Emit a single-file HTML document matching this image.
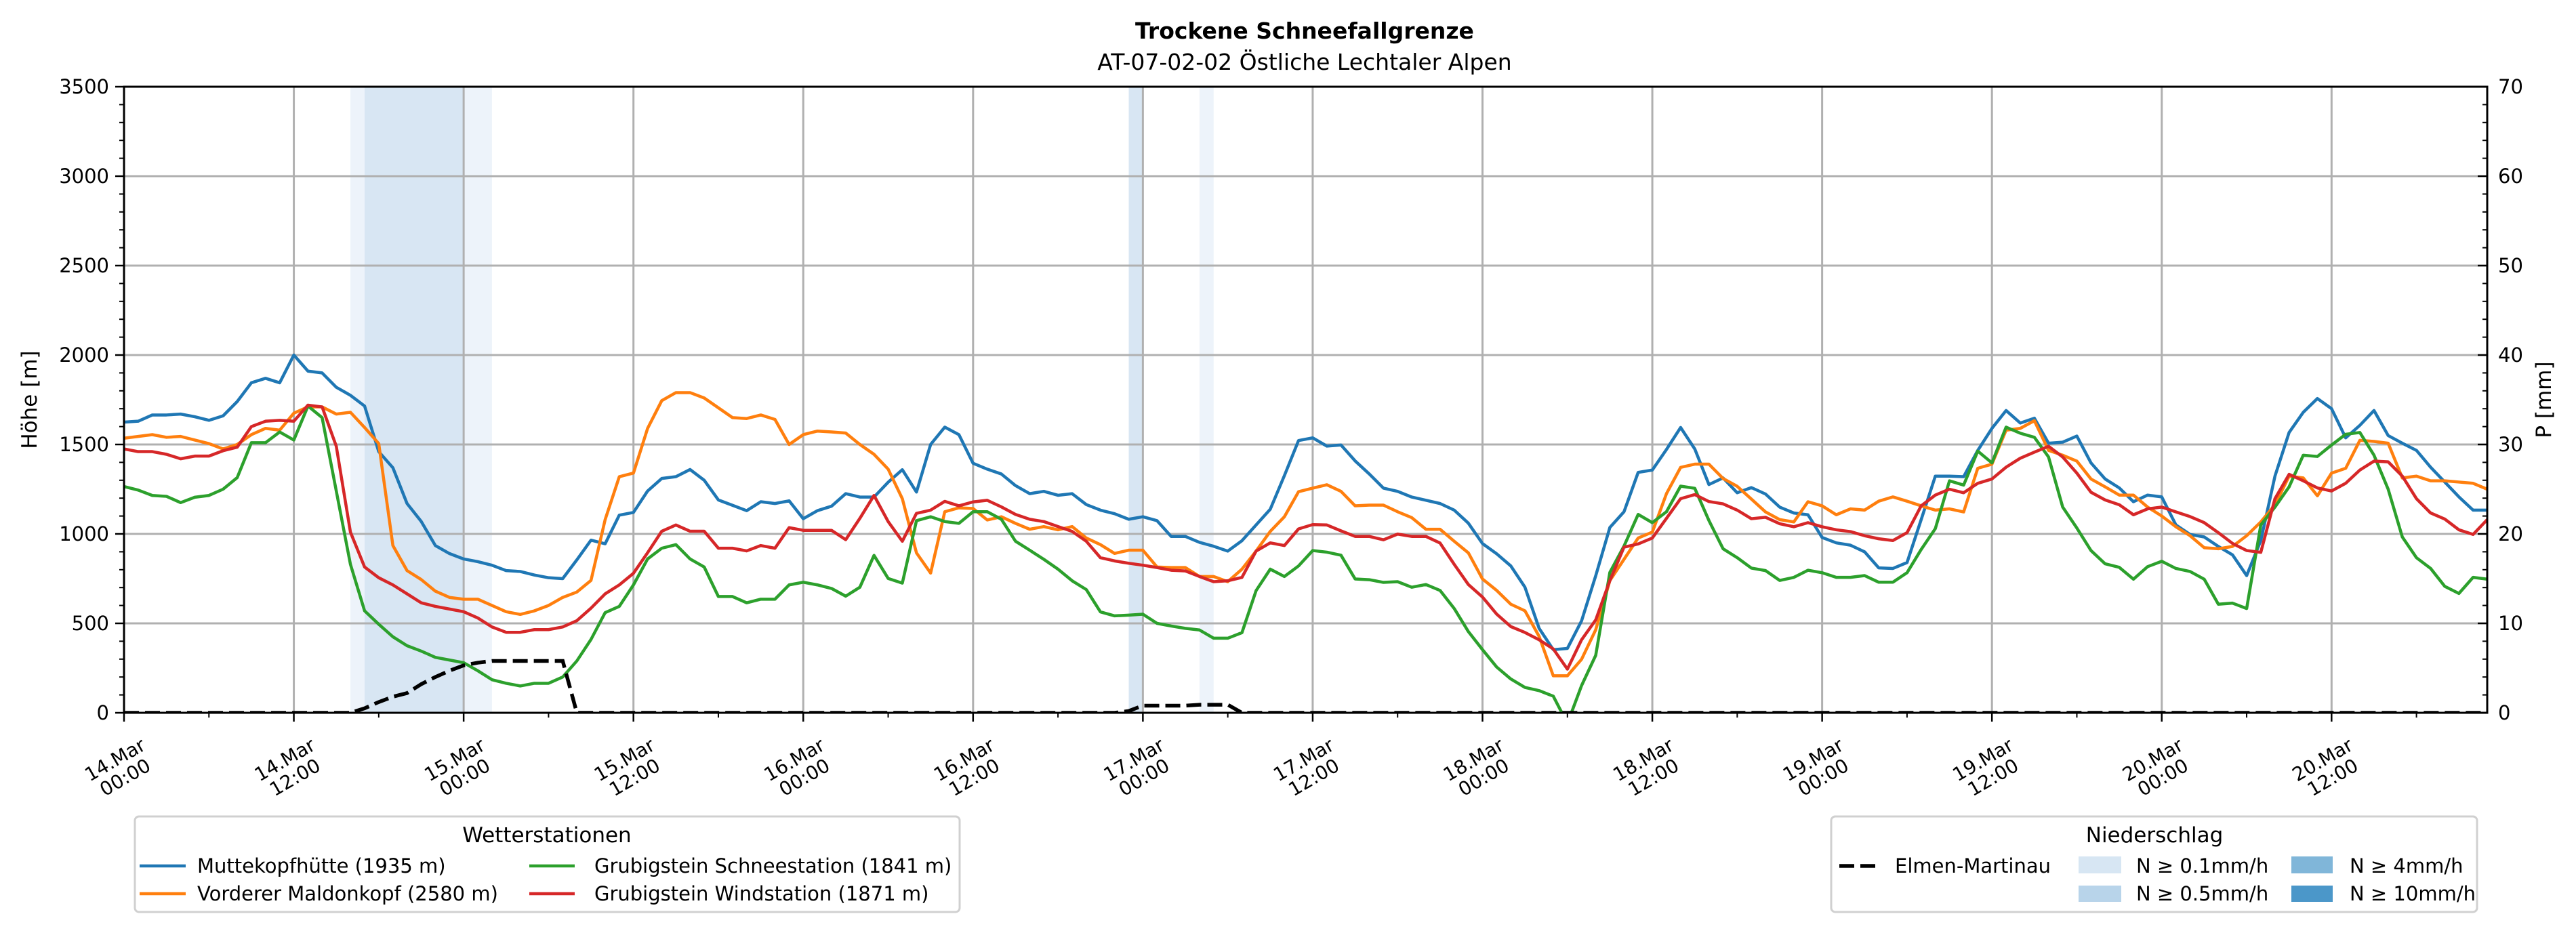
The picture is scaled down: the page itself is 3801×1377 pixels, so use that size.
<!DOCTYPE html>
<html><head><meta charset="utf-8"><style>
html,body{margin:0;padding:0;background:#fff;}
svg{display:block;font-family:"DejaVu Sans","Liberation Sans",sans-serif;}
</style></head><body>
<svg id="chart" width="3801" height="1377" viewBox="0 0 3801 1377" xmlns="http://www.w3.org/2000/svg">
<rect width="3801" height="1377" fill="#fff"/>
<text x="1925" y="57" text-anchor="middle" font-size="33" font-weight="bold">Trockene Schneefallgrenze</text>
<text x="1925" y="103" text-anchor="middle" font-size="33">AT-07-02-02 Östliche Lechtaler Alpen</text>
<g id="bands"></g>
<g id="grid"></g>
<g id="series"></g>
<g id="axes"></g>
<text x="0" y="0" transform="translate(54,590) rotate(-90)" text-anchor="middle" font-size="31">Höhe [m]</text>
<text x="0" y="0" transform="translate(3764,590) rotate(-90)" text-anchor="middle" font-size="31">P [mm]</text>

<g>
<rect x="199" y="1205" width="1217" height="141" rx="6" fill="#fff" stroke="#d0d0d0" stroke-width="3"/>
<text x="807" y="1243" text-anchor="middle" font-size="31">Wetterstationen</text>
<g><line x1="206" y1="1278" x2="274" y2="1278" stroke="#1f77b4" stroke-width="4.5"/><text x="291" y="1288" font-size="29">Muttekopfhütte (1935 m)</text></g>
<g><line x1="206" y1="1319" x2="274" y2="1319" stroke="#ff7f0e" stroke-width="4.5"/><text x="291" y="1329" font-size="29">Vorderer Maldonkopf (2580 m)</text></g>
<g><line x1="781" y1="1278" x2="848" y2="1278" stroke="#2ca02c" stroke-width="4.5"/><text x="877" y="1288" font-size="29">Grubigstein Schneestation (1841 m)</text></g>
<g><line x1="781" y1="1319" x2="848" y2="1319" stroke="#d62728" stroke-width="4.5"/><text x="877" y="1329" font-size="29">Grubigstein Windstation (1871 m)</text></g>
</g>

<g>
<rect x="2702" y="1205" width="953" height="141" rx="6" fill="#fff" stroke="#d0d0d0" stroke-width="3"/>
<text x="3179" y="1243" text-anchor="middle" font-size="31">Niederschlag</text>
<g><line x1="2714" y1="1278" x2="2770" y2="1278" stroke="#000" stroke-width="5.5" stroke-dasharray="22,9"/><text x="2796" y="1288" font-size="29">Elmen-Martinau</text></g>
<g><rect x="3067" y="1264" width="63" height="25" fill="#d7e6f3"/><text x="3152" y="1288" font-size="29">N ≥ 0.1mm/h</text></g>
<g><rect x="3067" y="1307" width="63" height="24" fill="#b8d4ea"/><text x="3152" y="1329" font-size="29">N ≥ 0.5mm/h</text></g>
<g><rect x="3381" y="1264" width="61" height="25" fill="#80b6d9"/><text x="3467" y="1288" font-size="29">N ≥ 4mm/h</text></g>
<g><rect x="3381" y="1307" width="61" height="24" fill="#4b97c9"/><text x="3467" y="1329" font-size="29">N ≥ 10mm/h</text></g>
</g>
</svg>
<script>
const muttekopf = [1625,1630,1665,1665,1670,1655,1635,1660,1740,1845,1870,1845,2000,1910,1900,1820,1775,1715,1460,1370,1170,1070,935,890,860,845,825,795,790,770,755,750,855,965,945,1105,1120,1240,1310,1320,1360,1300,1190,1160,1130,1180,1170,1185,1085,1130,1155,1225,1206,1206,1289,1359,1234,1500,1597,1555,1395,1362,1335,1270,1225,1238,1216,1225,1164,1133,1113,1082,1096,1074,986,986,953,931,904,962,1050,1138,1326,1522,1537,1491,1497,1408,1335,1256,1238,1206,1188,1170,1133,1060,946,889,821,702,472,353,360,514,766,1036,1124,1344,1357,1472,1595,1475,1276,1313,1230,1259,1223,1150,1117,1107,980,950,937,900,810,807,840,1080,1323,1323,1320,1467,1590,1690,1620,1647,1507,1513,1547,1397,1307,1257,1180,1217,1207,1050,997,983,930,883,767,963,1323,1567,1680,1757,1700,1537,1607,1690,1550,1507,1467,1373,1290,1207,1133,1133];
const maldonkopf = [1535,1545,1555,1540,1545,1525,1505,1475,1500,1555,1590,1580,1675,1710,1710,1670,1680,1595,1505,935,795,745,680,645,635,635,600,565,550,570,600,645,675,740,1080,1320,1340,1590,1745,1790,1790,1760,1705,1650,1645,1665,1640,1500,1555,1575,1570,1564,1500,1445,1362,1197,894,781,1124,1146,1142,1078,1096,1059,1026,1041,1023,1041,977,940,891,909,909,815,812,812,762,762,733,803,904,1014,1096,1236,1256,1275,1238,1157,1161,1161,1124,1091,1026,1026,959,894,748,684,607,570,427,207,207,299,464,739,858,977,1010,1225,1372,1390,1390,1310,1266,1195,1123,1080,1067,1180,1157,1107,1140,1133,1183,1207,1183,1157,1133,1140,1123,1367,1390,1580,1590,1633,1467,1440,1407,1307,1263,1217,1217,1150,1100,1040,990,923,917,930,990,1067,1163,1323,1313,1213,1340,1367,1523,1517,1507,1313,1323,1297,1297,1290,1283,1250];
const schneestation = [1265,1245,1215,1210,1175,1205,1215,1250,1315,1510,1510,1570,1525,1715,1650,1240,830,570,495,425,375,345,310,295,280,235,185,165,150,165,165,200,290,410,560,595,715,860,920,940,860,815,650,650,615,635,635,715,730,715,695,652,702,880,751,725,1074,1096,1069,1059,1124,1124,1082,959,909,858,803,738,689,564,542,546,551,500,485,472,463,417,417,448,683,803,762,821,907,898,881,748,744,729,733,702,717,684,583,454,353,256,189,142,124,93,-60,152,321,785,932,1109,1063,1124,1267,1255,1075,917,867,809,795,740,757,797,783,757,757,767,730,730,783,913,1030,1297,1273,1463,1397,1597,1563,1540,1430,1150,1033,907,833,813,747,817,847,807,790,747,607,613,583,1050,1150,1263,1440,1433,1497,1557,1567,1440,1250,983,867,807,707,667,757,747];
const windstation = [1475,1460,1460,1445,1420,1435,1435,1465,1485,1600,1630,1635,1630,1720,1710,1490,1010,815,755,715,665,615,595,580,565,530,480,450,450,465,465,480,515,585,665,715,780,895,1015,1050,1015,1015,920,920,905,935,920,1035,1020,1020,1020,968,1087,1215,1069,959,1115,1133,1182,1157,1179,1188,1151,1109,1082,1069,1041,1014,959,867,849,836,825,812,797,793,762,733,738,757,904,950,935,1028,1052,1050,1017,986,986,967,999,986,986,949,830,717,647,552,482,449,408,357,244,408,519,739,926,944,977,1087,1197,1220,1181,1168,1133,1085,1093,1057,1040,1063,1040,1023,1013,990,973,963,1007,1157,1217,1250,1230,1283,1307,1373,1423,1457,1490,1430,1340,1233,1190,1163,1107,1140,1150,1123,1097,1063,1007,947,907,897,1197,1333,1297,1257,1240,1283,1357,1407,1403,1323,1197,1117,1083,1023,997,1080];
const precipHours = [17,18,19,20,21,22,23,24,25,26,27,28,29,30,31,71,72,73,74,75,76,77,78];
const precipValues = [0.5,1.2,1.8,2.2,3.2,4.0,4.7,5.3,5.6,5.8,5.8,5.8,5.8,5.8,5.8,0.2,0.8,0.8,0.8,0.8,0.9,0.9,0.9];
const bandStart = [16,17,24,71,76];
const bandEnd = [17,24,26,72,77];
const bandClass = [0,1,0,1,0];
const xTickHours = [0,12,24,36,48,60,72,84,96,108,120,132,144,156];
const xTickDates = ["14.Mar","14.Mar","15.Mar","15.Mar","16.Mar","16.Mar","17.Mar","17.Mar","18.Mar","18.Mar","19.Mar","19.Mar","20.Mar","20.Mar"];
const xTickTimes = ["00:00","12:00","00:00","12:00","00:00","12:00","00:00","12:00","00:00","12:00","00:00","12:00","00:00","12:00"];
const yTicks = [0,500,1000,1500,2000,2500,3000,3500];
const y2Ticks = [0,10,20,30,40,50,60,70];

const NS="http://www.w3.org/2000/svg";
const L=183,R=3670,T=128,B=1052,HMAX=167,YMAX=3500,PMAX=70;
const x=h=>L+h*(R-L)/HMAX;
const y=m=>B-m*(B-T)/YMAX;
const y2=p=>B-p*(B-T)/PMAX;
function mk(tag,attrs,parent){const e=document.createElementNS(NS,tag);for(const k in attrs)e.setAttribute(k,attrs[k]);parent.appendChild(e);return e;}
const gB=document.getElementById('bands'),gG=document.getElementById('grid'),gS=document.getElementById('series'),gA=document.getElementById('axes');

const bandColors=['#edf3fa','#d8e6f3'];
bandStart.forEach((s,i)=>{
  const r=mk('rect',{x:x(s),y:T,width:x(bandEnd[i])-x(s),height:B-T,fill:bandColors[bandClass[i]]},gB);
  
  
});

yTicks.forEach(v=>{const l=mk('line',{x1:L,x2:R,y1:y(v),y2:y(v),stroke:'#b0b0b0','stroke-width':3},gG);
  
  });
xTickHours.forEach(h=>{const l=mk('line',{x1:x(h),x2:x(h),y1:T,y2:B,stroke:'#b0b0b0','stroke-width':3},gG);
  
  });

const clip=mk('clipPath',{id:'plotclip'},mk('defs',{},document.getElementById('chart')));
mk('rect',{x:L,y:T,width:R-L,height:B-T},clip);
gS.setAttribute('clip-path','url(#plotclip)');

const seriesList=[[muttekopf,'#1f77b4','line-muttekopf'],[maldonkopf,'#ff7f0e','line-maldonkopf'],[schneestation,'#2ca02c','line-schneestation'],[windstation,'#d62728','line-windstation']];
seriesList.forEach(([d,c,n])=>{
  const p=mk('polyline',{points:d.map((v,i)=>x(i)+','+y(v)).join(' '),fill:'none',stroke:c,'stroke-width':4.5,'stroke-linejoin':'round'},gS);
  
  
});
const pts=[];
for(let h=0;h<=HMAX;h++){const k=precipHours.indexOf(h);pts.push(x(h)+','+y2(k>=0?precipValues[k]:0));}
const dp=mk('polyline',{points:pts.join(' '),fill:'none',stroke:'#000','stroke-width':5.5,'stroke-dasharray':'22,9'},gS);



mk('rect',{x:L,y:T,width:R-L,height:B-T,fill:'none',stroke:'#000','stroke-width':3},gA);
yTicks.forEach(v=>{mk('line',{x1:L-13,x2:L,y1:y(v),y2:y(v),stroke:'#000','stroke-width':2.5},gA);
  const t=mk('text',{x:L-22,y:y(v)+10,'text-anchor':'end','font-size':29},gA);t.textContent=v;
  
  });
for(let v=100;v<YMAX;v+=100){if(v%500)mk('line',{x1:L-7,x2:L,y1:y(v),y2:y(v),stroke:'#000','stroke-width':2},gA);}
y2Ticks.forEach(v=>{mk('line',{x1:R-14,x2:R,y1:y2(v),y2:y2(v),stroke:'#000','stroke-width':2.5},gA);
  const t=mk('text',{x:R+16,y:y2(v)+10,'font-size':29},gA);t.textContent=v;
  
  });
for(let v=2;v<PMAX;v+=2){if(v%10)mk('line',{x1:R-7,x2:R,y1:y2(v),y2:y2(v),stroke:'#000','stroke-width':2},gA);}
for(let h=6;h<HMAX;h+=12){mk('line',{x1:x(h),x2:x(h),y1:B,y2:B+7,stroke:'#000','stroke-width':2},gA);}
xTickHours.forEach((h,i)=>{
  mk('line',{x1:x(h),x2:x(h),y1:B,y2:B+13,stroke:'#000','stroke-width':2.5},gA);
  const g=mk('g',{transform:`translate(${x(h)-6},1134) rotate(-30)`},gA);
  
  
  const t1=mk('text',{x:0,y:-5,'text-anchor':'middle','font-size':28},g);t1.textContent=xTickDates[i];
  const t2=mk('text',{x:0,y:25,'text-anchor':'middle','font-size':28},g);t2.textContent=xTickTimes[i];
});
</script>
</body></html>
